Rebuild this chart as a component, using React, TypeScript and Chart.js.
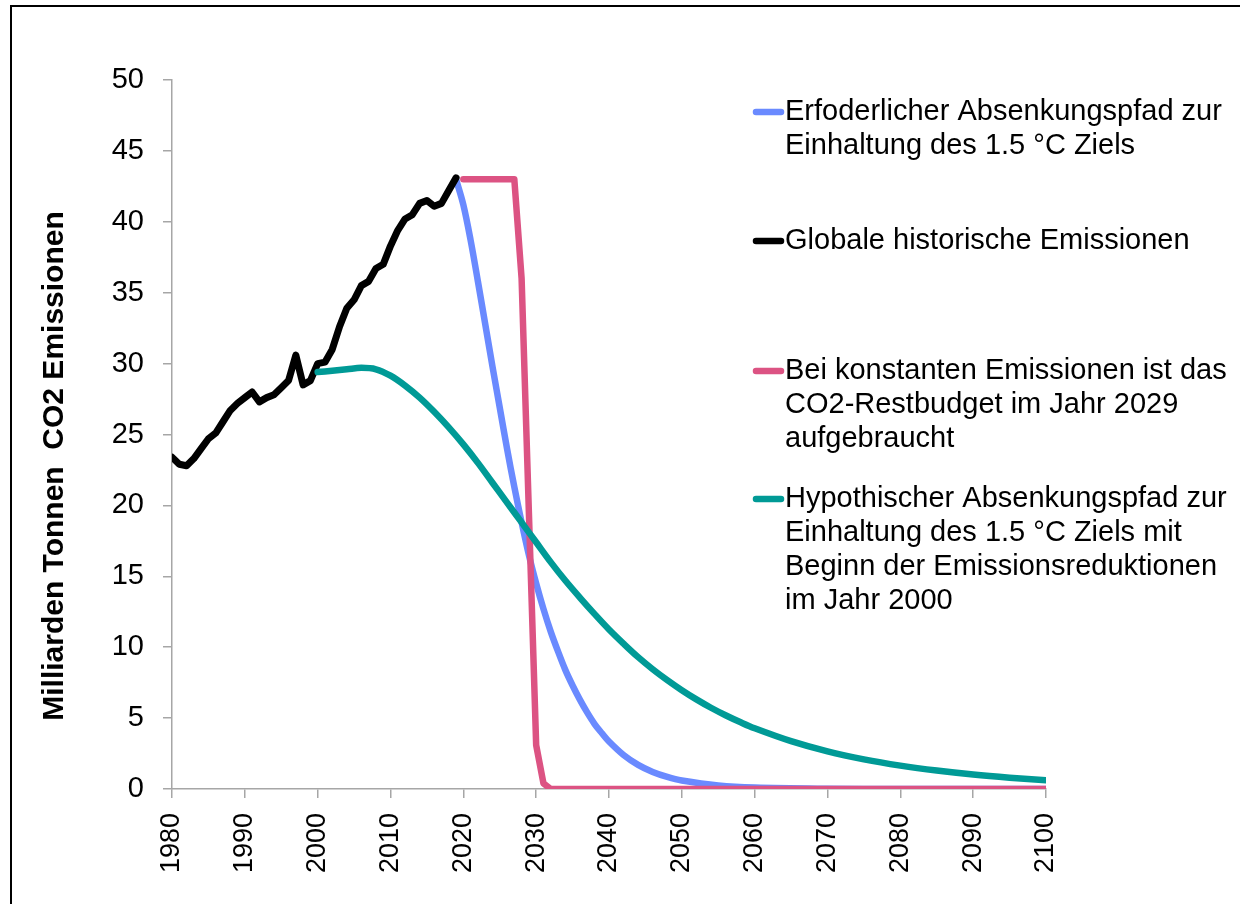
import React, { useEffect, useRef } from "react";
import { Chart, registerables } from "chart.js";

Chart.register(...registerables);

// ---------- data ----------
const historyYears = [
  1980, 1981, 1982, 1983, 1984, 1985, 1986, 1987, 1988, 1989,
  1990, 1991, 1992, 1993, 1994, 1995, 1996, 1997, 1998, 1999,
  2000, 2001, 2002, 2003, 2004, 2005, 2006, 2007, 2008, 2009,
  2010, 2011, 2012, 2013, 2014, 2015, 2016, 2017, 2018, 2019,
];
const historyValues = [
  23.4, 22.9, 22.8, 23.3, 24.0, 24.7, 25.1, 25.9, 26.7, 27.2,
  27.6, 28.0, 27.3, 27.6, 27.8, 28.3, 28.8, 30.6, 28.5, 28.8,
  30.0, 30.1, 31.0, 32.6, 33.9, 34.5, 35.5, 35.8, 36.7, 37.0,
  38.3, 39.4, 40.2, 40.5, 41.3, 41.5, 41.1, 41.3, 42.2, 43.1,
];

const requiredYears = [
  2019, 2020, 2021, 2022, 2023, 2024, 2025, 2026, 2027, 2028,
  2029, 2030, 2031, 2032, 2033, 2034, 2035, 2036, 2037, 2038,
  2039, 2040, 2042, 2044, 2046, 2048, 2050, 2055, 2060, 2070,
  2080, 2090, 2100,
];
const requiredValues = [
  43.0, 41.2, 38.7, 35.8, 32.8, 29.8, 26.9, 24.0, 21.3, 18.8,
  16.5, 14.5, 12.7, 11.1, 9.7, 8.4, 7.3, 6.3, 5.4, 4.6,
  3.95, 3.35, 2.4, 1.7, 1.2, 0.85, 0.6, 0.25, 0.1, 0.02,
  0, 0, 0,
];

const constantYears = [
  2020, 2021, 2022, 2023, 2024, 2025, 2026, 2027, 2028, 2029,
  2030, 2031, 2032, 2040, 2050, 2060, 2070, 2080, 2090, 2100,
];
const constantValues = [
  43, 43, 43, 43, 43, 43, 43, 43, 36.0, 19.5,
  3.1, 0.4, 0, 0, 0, 0, 0, 0, 0, 0,
];

const hypoYears = [
  2000, 2002, 2004, 2006, 2008, 2010, 2012, 2014, 2016, 2018,
  2020, 2022, 2024, 2026, 2028, 2030, 2032, 2034, 2036, 2038,
  2040, 2042, 2044, 2046, 2048, 2050, 2052, 2054, 2056, 2058,
  2060, 2065, 2070, 2075, 2080, 2085, 2090, 2095, 2100,
];
const hypoValues = [
  29.4, 29.5, 29.6, 29.7, 29.6, 29.15, 28.45, 27.6, 26.6, 25.5,
  24.3, 23.0, 21.6, 20.2, 18.8, 17.4, 16.0, 14.7, 13.5, 12.35,
  11.25, 10.25, 9.3, 8.45, 7.68, 6.97, 6.32, 5.73, 5.2, 4.72,
  4.28, 3.37, 2.65, 2.09, 1.65, 1.3, 1.02, 0.8, 0.62,
];

const yearTicks = [1980, 1990, 2000, 2010, 2020, 2030, 2040, 2050, 2060, 2070, 2080, 2090, 2100];
const valueTicks = [0, 5, 10, 15, 20, 25, 30, 35, 40, 45, 50];

const yAxisTitle = "Milliarden Tonnen  CO2 Emissionen";

const legendRequired = ["Erfoderlicher Absenkungspfad zur", "Einhaltung des 1.5 °C Ziels"];
const legendHistory = ["Globale historische Emissionen"];
const legendConstant = ["Bei konstanten Emissionen ist das", "CO2-Restbudget im Jahr 2029", "aufgebraucht"];
const legendHypo = [
  "Hypothischer Absenkungspfad zur",
  "Einhaltung des 1.5 °C Ziels mit",
  "Beginn der Emissionsreduktionen",
  "im Jahr 2000",
];

// ---------- style ----------
const COLOR_BLUE = "#6A8AFF";
const COLOR_BLACK = "#000000";
const COLOR_PINK = "#DC5383";
const COLOR_TEAL = "#009A96";
const AXIS_GRAY = "#A6A6A6";
const FONT = "'Liberation Sans', Arial, sans-serif";

const toPoints = (xs: number[], ys: number[]) => xs.map((x, i) => ({ x, y: ys[i] }));

const legendLayout = [
  { color: COLOR_BLUE, y: 112, lines: legendRequired },
  { color: COLOR_BLACK, y: 241, lines: legendHistory },
  { color: COLOR_PINK, y: 371, lines: legendConstant },
  { color: COLOR_TEAL, y: 499, lines: legendHypo },
];

const decorPlugin = {
  id: "decor",
  afterDraw(chart: any) {
    const ctx = chart.ctx as CanvasRenderingContext2D;
    ctx.save();
    // frame
    ctx.strokeStyle = "#000";
    ctx.lineWidth = 2;
    ctx.strokeRect(11, 6, 1400, 1100);

    // y axis title
    ctx.save();
    ctx.translate(55, 466);
    ctx.rotate(-Math.PI / 2);
    ctx.fillStyle = "#000";
    ctx.font = `bold 30px ${FONT}`;
    ctx.textAlign = "center";
    ctx.textBaseline = "middle";
    ctx.fillText(yAxisTitle, 0, 0);
    ctx.restore();

    // legend
    ctx.font = `29px ${FONT}`;
    ctx.textAlign = "left";
    ctx.textBaseline = "middle";
    for (const item of legendLayout) {
      ctx.strokeStyle = item.color;
      ctx.lineWidth = 6.5;
      ctx.lineCap = "round";
      ctx.beginPath();
      ctx.moveTo(756, item.y);
      ctx.lineTo(781, item.y);
      ctx.stroke();
      ctx.fillStyle = "#000";
      item.lines.forEach((line, i) => {
        ctx.fillText(line, 785, item.y + i * 34);
      });
    }
    ctx.restore();
  },
};

export default function App() {
  const ref = useRef<HTMLCanvasElement | null>(null);

  useEffect(() => {
    if (!ref.current) return;
    const common = {
      pointRadius: 0,
      borderWidth: 6.5,
      borderCapStyle: "round" as const,
      borderJoinStyle: "round" as const,
      fill: false,
    };
    const chart = new Chart(ref.current, {
      type: "line",
      data: {
        datasets: [
          {
            ...common,
            label: legendRequired.join(" "),
            data: toPoints(requiredYears, requiredValues),
            borderColor: COLOR_BLUE,
            tension: 0.35,
            order: 4,
          },
          {
            ...common,
            label: legendHistory.join(" "),
            data: toPoints(historyYears, historyValues),
            borderColor: COLOR_BLACK,
            borderWidth: 7,
            tension: 0,
            order: 3,
          },
          {
            ...common,
            label: legendConstant.join(" "),
            data: toPoints(constantYears, constantValues),
            borderColor: COLOR_PINK,
            tension: 0,
            order: 2,
          },
          {
            ...common,
            label: legendHypo.join(" "),
            data: toPoints(hypoYears, hypoValues),
            borderColor: COLOR_TEAL,
            tension: 0.35,
            order: 1,
          },
        ],
      },
      options: {
        animation: false,
        responsive: false,
        events: [],
        layout: { padding: { top: 80, right: 194, bottom: 0, left: 0 } },
        plugins: {
          legend: { display: false },
          tooltip: { enabled: false },
          title: { display: false },
        },
        scales: {
          x: {
            type: "linear",
            min: yearTicks[0],
            max: yearTicks[yearTicks.length - 1],
            afterFit: (s: any) => {
              s.height = 115;
            },
            afterBuildTicks: (s: any) => {
              s.ticks = yearTicks.map((v) => ({ value: v }));
            },
            border: { display: true, color: AXIS_GRAY, width: 1.5 },
            grid: { display: true, drawOnChartArea: false, drawTicks: true, tickLength: 9, color: AXIS_GRAY, lineWidth: 1.5 },
            ticks: {
              color: "#000",
              font: { family: FONT, size: 27 },
              minRotation: 90,
              maxRotation: 90,
              padding: 15,
              autoSkip: false,
              callback: (v: any) => String(v),
            },
          },
          y: {
            type: "linear",
            min: valueTicks[0],
            max: valueTicks[valueTicks.length - 1],
            afterFit: (s: any) => {
              s.width = 172;
            },
            afterBuildTicks: (s: any) => {
              s.ticks = valueTicks.map((v) => ({ value: v }));
            },
            border: { display: true, color: AXIS_GRAY, width: 1.5 },
            grid: { display: true, drawOnChartArea: false, drawTicks: true, tickLength: 9, color: AXIS_GRAY, lineWidth: 1.5 },
            ticks: {
              color: "#000",
              font: { family: FONT, size: 29 },
              padding: 19,
              callback: (v: any) => String(v),
            },
          },
        },
      },
      plugins: [decorPlugin],
    } as any);
    return () => chart.destroy();
  }, []);

  return (
    <div style={{ position: "fixed", left: 0, top: 0, width: 1240, height: 904, overflow: "hidden", background: "#fff" }}>
      <canvas ref={ref} width={1240} height={904} style={{ width: 1240, height: 904, display: "block" }} />
    </div>
  );
}
